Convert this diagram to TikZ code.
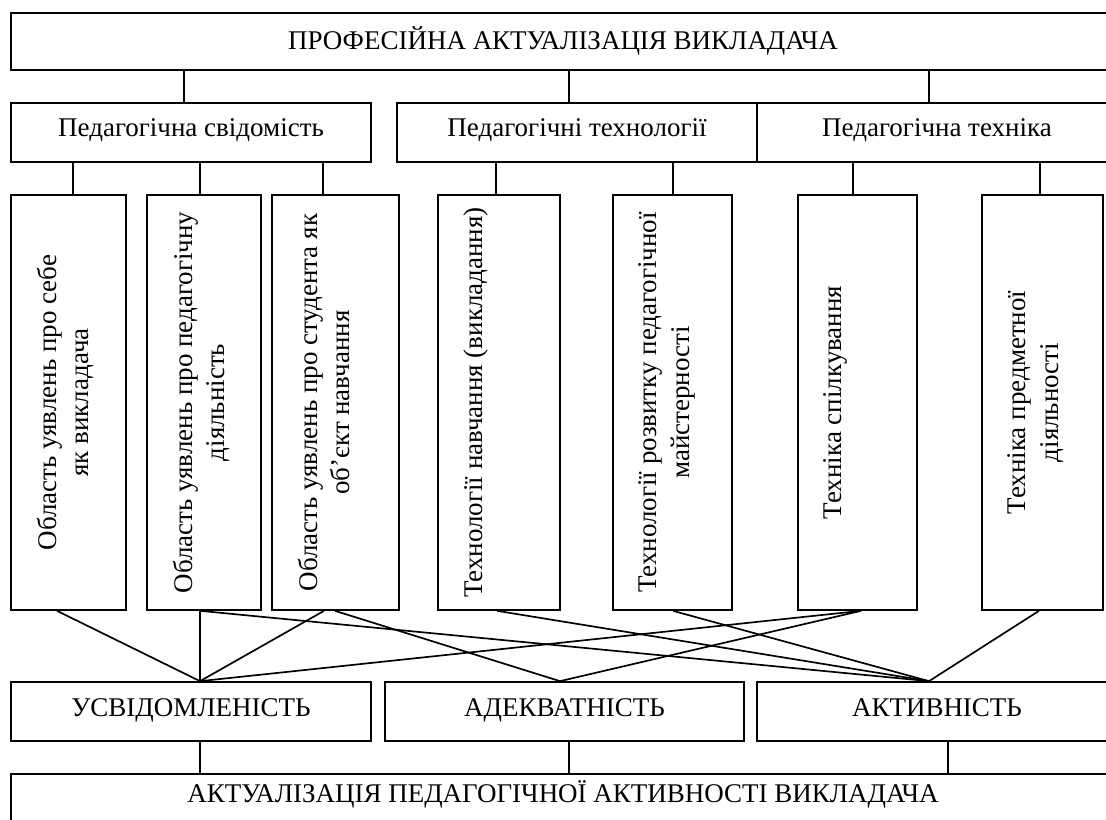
\documentclass[tikz,border=0pt]{standalone}
\usepackage{fontspec}
\setmainfont{Liberation Serif}
\usetikzlibrary{positioning, calc}

\begin{document}
\begin{tikzpicture}[line width=1.2pt, font=\fontsize{19.2pt}{23pt}\selectfont,
    box/.style={draw, rectangle, inner xsep=0pt, inner ysep=0pt, minimum height=1.475cm, text height=0.66cm, text depth=0.4cm},
    col/.style={draw, rectangle, minimum height=10.375cm},
    vtext/.style={rotate=90, anchor=north, inner sep=0pt, align=center}]
    \useasboundingbox (0,0) rectangle (27.65,20.5);

    % Nodes
    \node[box, minimum width=27.6cm, minimum height=1.425cm, text height=0.7cm, text depth=0.3cm] (top) at (14.075,19.4625) {ПРОФЕСІЙНА АКТУАЛІЗАЦІЯ ВИКЛАДАЧА};

    \node[box, minimum width=9cm, text height=0.625cm] (sv) at (4.775,17.19) {Педагогічна свідомість};
    \node[box, minimum width=9cm, text height=0.625cm] (tech) at (14.425,17.19) {Педагогічні технології};
    \node[box, minimum width=9cm, text height=0.625cm] (tekh) at (23.425,17.19) {Педагогічна техніка};

    \node[col, minimum width=2.875cm] (b1) at (1.7125,10.4375) {};
    \node[col, minimum width=2.85cm] (b2) at (5.1,10.4375) {};
    \node[col, minimum width=3.175cm] (b3) at (8.3875,10.4375) {};
    \node[col, minimum width=3.05cm] (b4) at (12.475,10.4375) {};
    \node[col, minimum width=2.975cm] (b5) at (16.8125,10.4375) {};
    \node[col, minimum width=2.975cm] (b6) at (21.4375,10.4375) {};
    \node[col, minimum width=3.025cm] (b7) at (26.0625,10.4375) {};

    \node[vtext] (t1) at ([xshift=0.65cm]b1.west) {Область уявлень про себе\\як викладача};
    \node[vtext] (t2) at ([xshift=0.65cm]b2.west) {Область уявлень про педагогічну\\діяльність};
    \node[vtext] (t3) at ([xshift=0.65cm]b3.west) {Область уявлень про студента як\\об’єкт навчання};
    \node[vtext] (t4) at ([xshift=0.65cm]b4.west) {Технології навчання (викладання)};
    \node[vtext] (t5) at ([xshift=0.65cm]b5.west) {Технології розвитку педагогічної\\майстерності};
    \node[vtext] (t6) at ([xshift=0.65cm]b6.west) {Техніка спілкування};
    \node[vtext] (t7) at ([xshift=0.65cm]b7.west) {Техніка предметної\\діяльності};

    \node[box, minimum width=9cm] (usv) at (4.775,2.7125) {УСВІДОМЛЕНІСТЬ};
    \node[box, minimum width=8.975cm] (adek) at (14.1125,2.7125) {АДЕКВАТНІСТЬ};
    \node[box, minimum width=9cm] (aktyv) at (23.425,2.7125) {АКТИВНІСТЬ};

    \node[box, minimum width=27.6cm, text height=0.725cm, text depth=0.775cm] (fin) at (14.075,0.4) {АКТУАЛІЗАЦІЯ ПЕДАГОГІЧНОЇ АКТИВНОСТІ ВИКЛАДАЧА};

    \coordinate (pU) at (5.0,0 |- usv.north);
    \coordinate (pA) at (14.0,0 |- adek.north);
    \coordinate (pK) at (23.225,0 |- aktyv.north);

    % Edges
    \foreach \x/\n in {4.6/sv, 14.225/tech, 23.225/tekh}
        \draw (\x,0 |- top.south) -- (\x,0 |- \n.north);
    \foreach \x/\n/\m in {1.825/sv/b1, 5.0/sv/b2, 8.075/sv/b3, 12.4/tech/b4, 16.825/tech/b5, 21.325/tekh/b6, 26.0/tekh/b7}
        \draw (\x,0 |- \n.south) -- (\x,0 |- \m.north);
    \foreach \x/\n/\p in {1.425/b1/pU, 5.0/b2/pU, 5.0/b2/pK, 8.1/b3/pU, 8.375/b3/pA, 12.425/b4/pK, 16.825/b5/pK, 21.525/b6/pU, 21.525/b6/pA, 25.975/b7/pK}
        \draw (\x,0 |- \n.south) -- (\p);
    \foreach \x/\n in {5.0/usv, 14.225/adek, 23.7/aktyv}
        \draw (\x,0 |- \n.south) -- (\x,0 |- fin.north);
\end{tikzpicture}
\end{document}
